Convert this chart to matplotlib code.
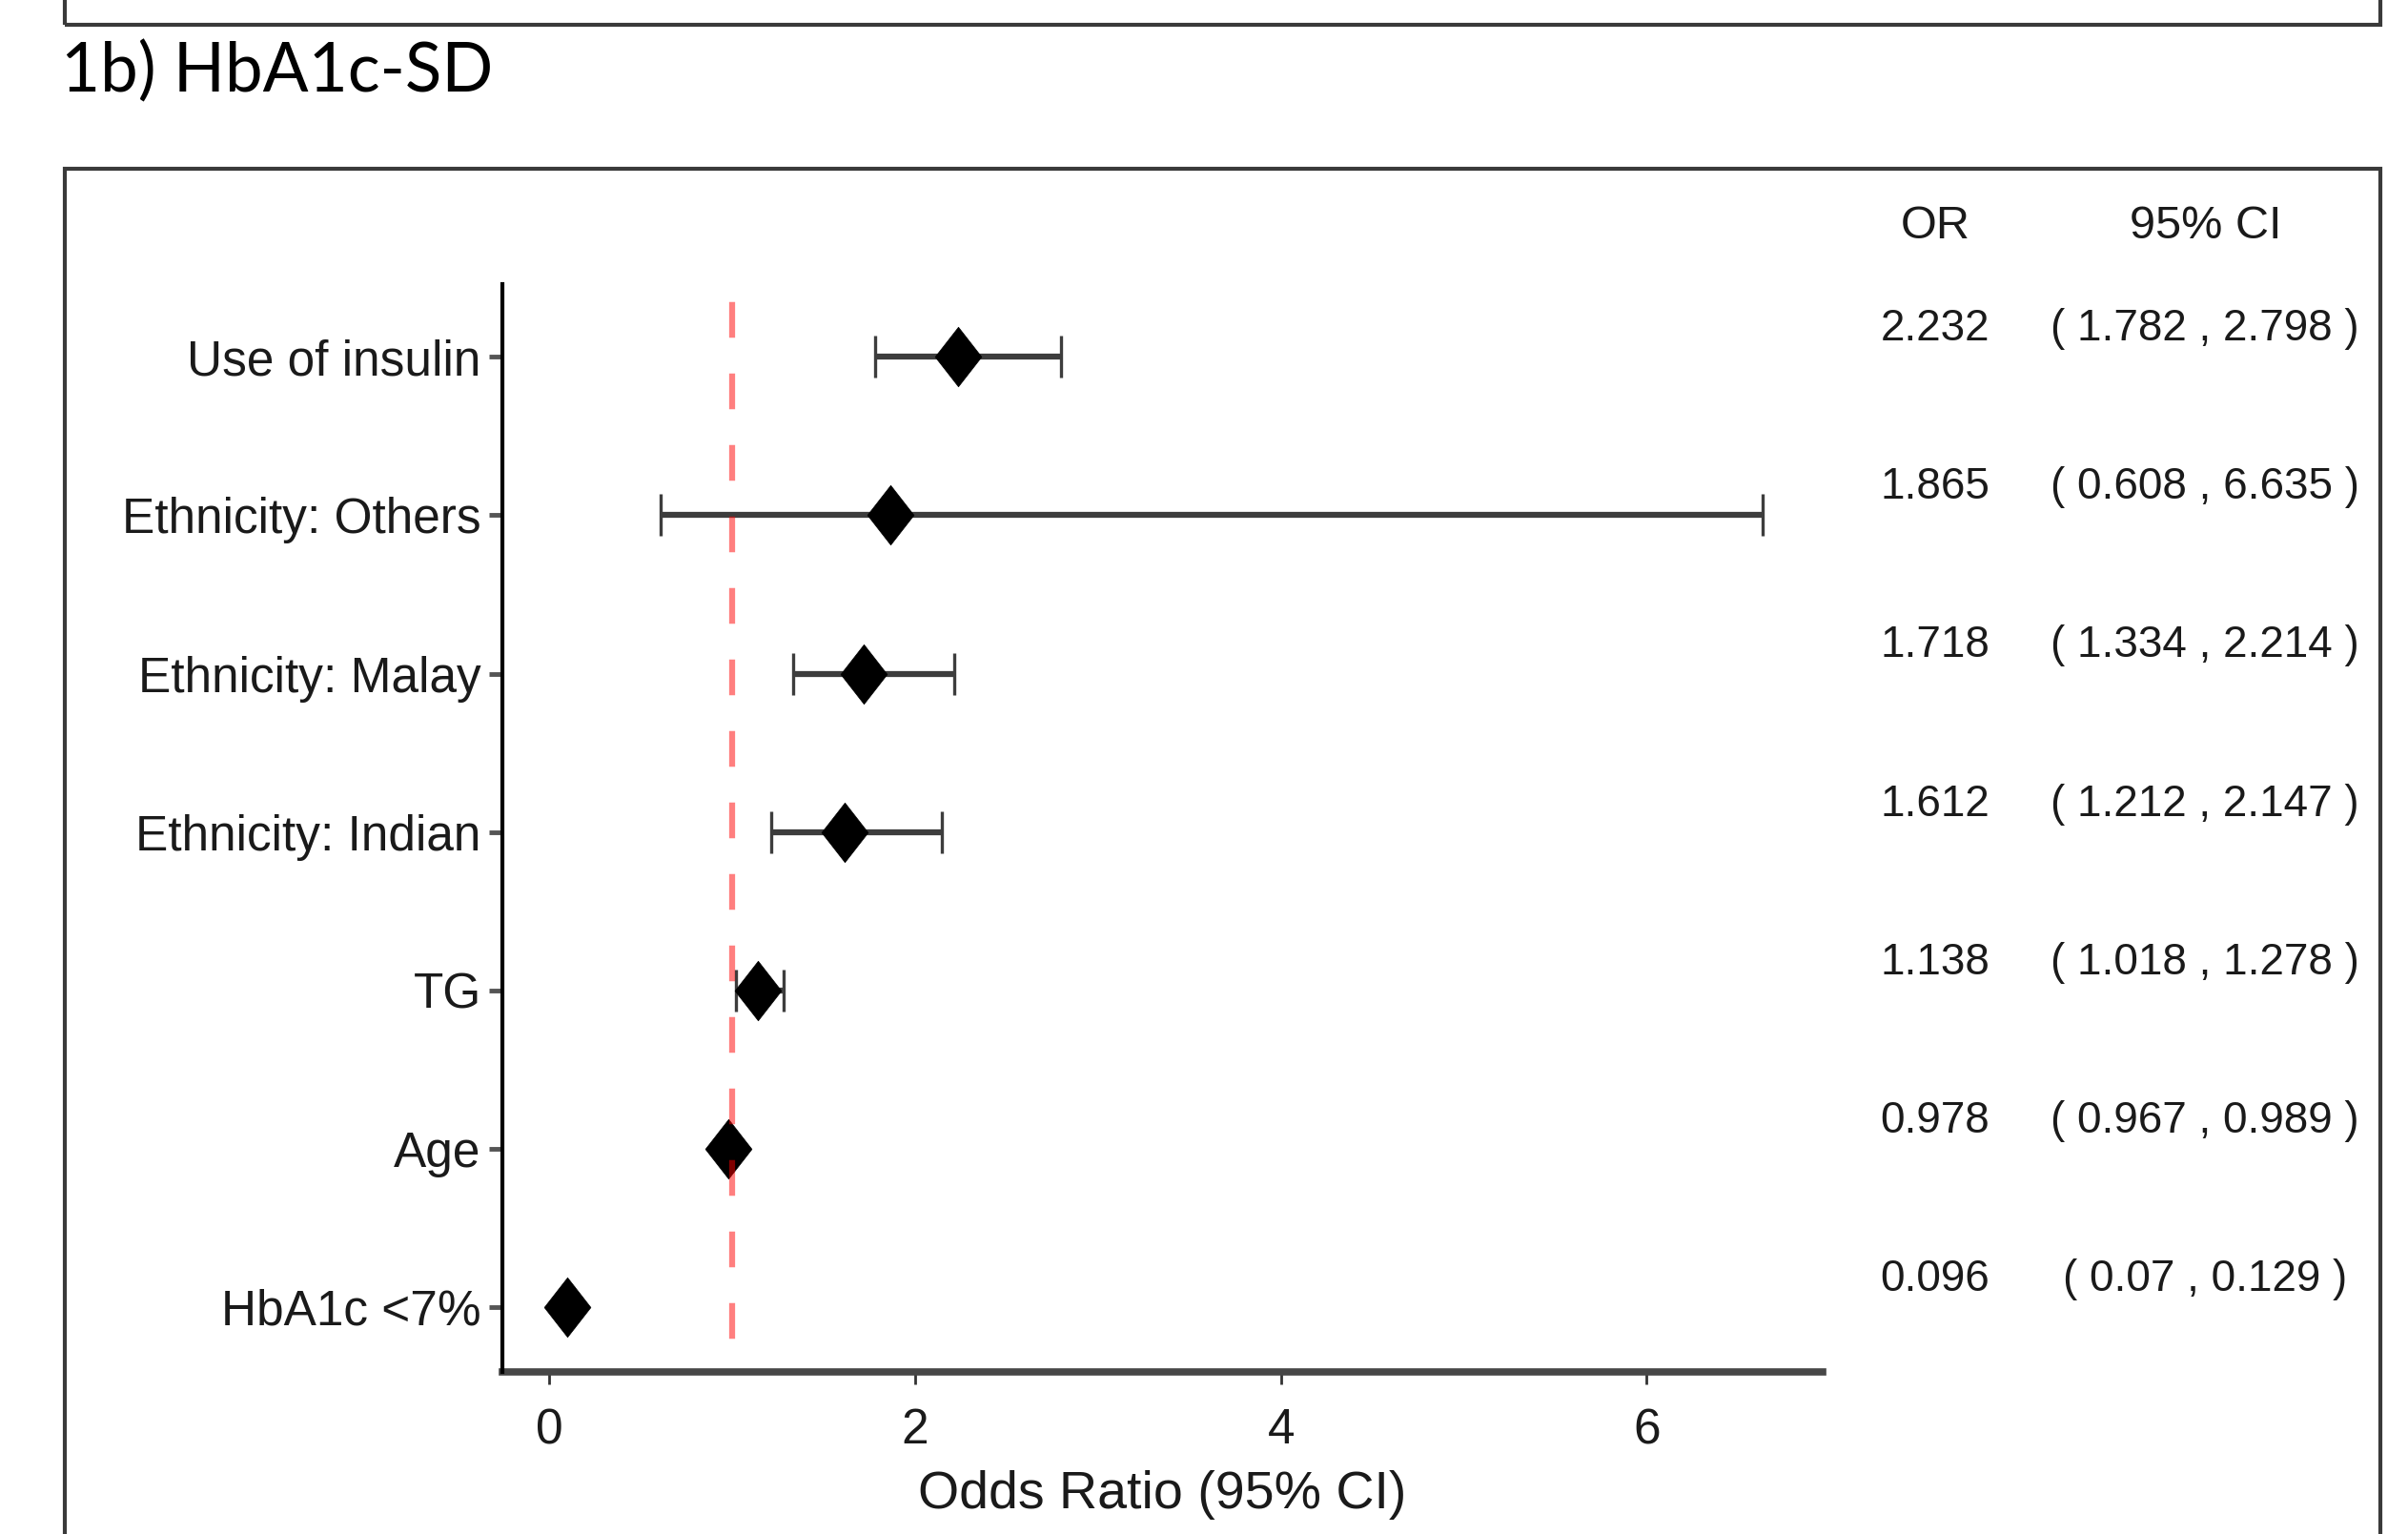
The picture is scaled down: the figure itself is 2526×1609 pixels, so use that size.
import numpy as np
import matplotlib
matplotlib.use('Agg')
import matplotlib.pyplot as plt
from matplotlib.patches import Rectangle
from matplotlib.path import Path
from matplotlib.transforms import blended_transform_factory

# Datos (de arriba hacia abajo)
etiquetas = ['Use of insulin', 'Ethnicity: Others', 'Ethnicity: Malay',
             'Ethnicity: Indian', 'TG', 'Age', 'HbA1c <7%']
odds = [2.232, 1.865, 1.718, 1.612, 1.138, 0.978, 0.096]
ic_inf = [1.782, 0.608, 1.334, 1.212, 1.018, 0.967, 0.07]
ic_sup = [2.798, 6.635, 2.214, 2.147, 1.278, 0.989, 0.129]
xticks = [0, 2, 4, 6]

plt.rcParams['font.family'] = ['Liberation Sans', 'DejaVu Sans']
color_texto = '#1a1a1a'

fig = plt.figure(figsize=(25.26, 16.09), dpi=100)
ax = fig.add_axes([0.2086, 0.1057, 0.5484, 0.7091])

n = len(etiquetas)
yy = np.arange(n, 0, -1)
odds = np.array(odds)
err = [odds - np.array(ic_inf), np.array(ic_sup) - odds]

ax.errorbar(odds, yy, xerr=err, fmt='none', ecolor='#3d3d3d', elinewidth=4.5,
            capsize=16, capthick=2.4, zorder=2)

diamante = Path([(0, 1), (0.78, 0), (0, -1), (-0.78, 0), (0, 1)],
                [Path.MOVETO, Path.LINETO, Path.LINETO, Path.LINETO, Path.CLOSEPOLY])
ax.plot(odds, yy, linestyle='none', marker=diamante, markersize=45,
        color='black', markeredgewidth=0.5, zorder=3)

rango = max(ic_sup) - min(ic_inf)
x0 = min(ic_inf) - 0.05 * rango
x1 = max(ic_sup) + 0.05 * rango
y0, y1 = 0.59, 7.46
ax.set_xlim(x0, x1)
ax.set_ylim(y0, y1)

# Linea de referencia OR = 1
ax.plot([1, 1], [y1, y0], color='red', alpha=0.5, lw=4.5,
        linestyle=(9, (6, 6)), zorder=4, dash_capstyle='butt')

ax.set_yticks(yy)
ax.set_yticklabels(etiquetas)
ax.set_xticks(xticks)
ax.set_xticklabels([str(t) for t in xticks])
ax.tick_params(axis='y', length=10, width=3.5, color='#555555', pad=6,
               labelsize=37, labelcolor=color_texto)
ax.tick_params(axis='x', length=9, width=2, color='#333333', pad=18,
               labelsize=37, labelcolor=color_texto)

for lado in ['top', 'right']:
    ax.spines[lado].set_visible(False)
ax.spines['left'].set_linewidth(3)
ax.spines['left'].set_color('black')
ax.spines['bottom'].set_linewidth(5.5)
ax.spines['bottom'].set_color('#474747')
ax.spines['left'].set_zorder(5)

ax.set_xlabel('Odds Ratio (95% CI)', fontsize=40, color=color_texto)
ax.xaxis.set_label_coords(0.5, -0.113)
ax.xaxis.label.set_va('center')

# Tabla OR / IC
trans = blended_transform_factory(fig.transFigure, ax.transData)
x_or, x_ic = 0.8036, 0.9158
ax.text(x_or, 7.825, 'OR', transform=trans, ha='center', va='center',
        fontsize=35, color=color_texto, clip_on=False)
ax.text(x_ic, 7.825, '95% CI', transform=trans, ha='center', va='center',
        fontsize=35, color=color_texto, clip_on=False)
for y, o, a, b in zip(yy, odds, ic_inf, ic_sup):
    ax.text(x_or, y + 0.175, '{:.3f}'.format(o), transform=trans, ha='center',
            va='center', fontsize=33, color=color_texto, clip_on=False)
    ax.text(x_ic, y + 0.175, '( {} , {} )'.format(a, b), transform=trans,
            ha='center', va='center', fontsize=33, color=color_texto, clip_on=False)

# Marcos de los paneles
fig.add_artist(Rectangle((0.0269, 0.9838), 0.9617, 0.1, transform=fig.transFigure,
                         fill=False, lw=3, edgecolor='#3a3a3a', clip_on=False))
fig.add_artist(Rectangle((0.0269, -0.1), 0.9617, 0.99, transform=fig.transFigure,
                         fill=False, lw=3, edgecolor='#3a3a3a', clip_on=False))

fig.text(0.0253, 0.940, '1b) HbA1c-SD', fontsize=51, family=['Lato', 'DejaVu Sans'],
         color='black', ha='left', va='baseline')

fig.savefig('out.png', dpi=100)
